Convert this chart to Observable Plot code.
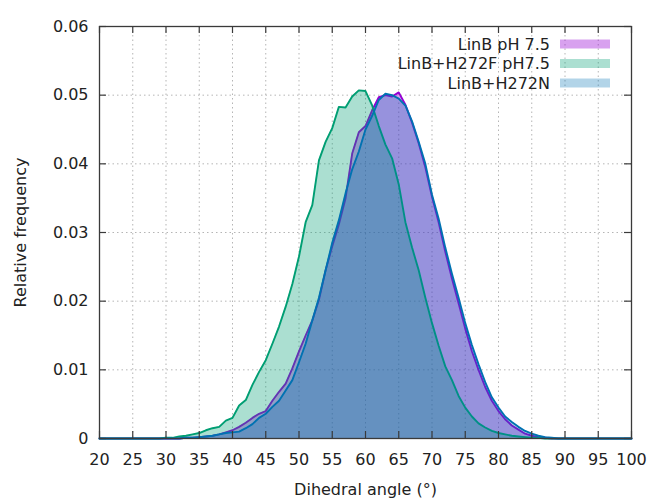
<!DOCTYPE html>
<html>
<head>
<meta charset="utf-8">
<script src="https://cdn.jsdelivr.net/npm/d3@7"></script>
<script src="https://cdn.jsdelivr.net/npm/@observablehq/plot@0.6"></script>
<style>
  body { margin: 0; background: #fff; }
  #chart { width: 652px; height: 499px; }
</style>
</head>
<body>
<div id="chart"></div>
<script>
// Dihedral angle bins (degrees)
const angles = [
  20,21,22,23,24,25,26,27,28,29,30,31,32,33,34,35,36,37,38,39,
  40,41,42,43,44,45,46,47,48,49,50,51,52,53,54,55,56,57,58,59,
  60,61,62,63,64,65,66,67,68,69,70,71,72,73,74,75,76,77,78,79,
  80,81,82,83,84,85,86,87,88,89,90,91,92,93,94,95,96,97,98,99,100
];

const seriesNames = ["LinB pH 7.5", "LinB+H272F pH7.5", "LinB+H272N"];
const seriesColors = ["#9400d3", "#009e73", "#0072b2"];
const seriesFillOpacity = [0.37, 0.33, 0.3];

// Relative frequency per bin
const freqWT = [
  0,0,0,0,0,0,0,0,0,0,0,0,0,0.0001,0.0001,0.0002,0.0003,0.0004,0.0006,0.0009,
  0.0012,0.0017,0.0023,0.0030,0.0036,0.0040,0.0055,0.0068,0.0080,0.0102,
  0.0127,0.0150,0.0172,0.0202,0.0245,0.0280,0.0312,0.0350,0.0415,0.0446,
  0.0455,0.0478,0.0497,0.0500,0.0498,0.0504,0.0486,0.0460,0.0430,0.0395,
  0.0352,0.0315,0.0272,0.0233,0.0197,0.0160,0.0127,0.0100,0.0075,0.0055,
  0.0040,0.0028,0.0019,0.0013,0.0007,0.0004,0.0002,0.0001,0,0,
  0,0,0,0,0,0,0,0,0,0,0
];
const freqH272F = [
  0,0,0,0,0,0,0,0,0,0,0.0001,0.0001,0.0003,0.0004,0.0006,0.0008,0.0012,0.0015,0.0017,0.0026,
  0.0030,0.0048,0.0056,0.0078,0.0097,0.0114,0.0138,0.0163,0.0192,0.0225,
  0.0265,0.0315,0.0340,0.0405,0.0432,0.0452,0.0483,0.0482,0.0498,0.0507,
  0.0506,0.0485,0.0455,0.0428,0.0408,0.0370,0.0315,0.0278,0.0245,0.0205,
  0.0168,0.0135,0.0105,0.0085,0.0062,0.0045,0.0032,0.0022,0.0016,0.0011,
  0.0008,0.0006,0.0004,0.0003,0.0002,0.0001,0.0001,0,0,0,
  0,0,0,0,0,0,0,0,0,0,0
];
const freqH272N = [
  0,0,0,0,0,0,0,0,0,0,0,0,0,0.0001,0.0001,0.0002,0.0003,0.0004,0.0006,0.0008,
  0.0009,0.0010,0.0015,0.0021,0.0030,0.0036,0.0046,0.0055,0.0070,0.0085,
  0.0111,0.0138,0.0172,0.0205,0.0245,0.0285,0.0318,0.0357,0.0392,0.0418,
  0.0450,0.0470,0.0493,0.0502,0.0500,0.0495,0.0485,0.0462,0.0432,0.0400,
  0.0355,0.0320,0.0278,0.0240,0.0205,0.0168,0.0136,0.0108,0.0082,0.0060,
  0.0045,0.0032,0.0024,0.0017,0.0011,0.0007,0.0004,0.0002,0.0001,0,
  0,0,0,0,0,0,0,0,0,0,0
];

const xTicks = [20,25,30,35,40,45,50,55,60,65,70,75,80,85,90,95,100];
const yTicks = [0,0.01,0.02,0.03,0.04,0.05,0.06];
const yTickLabels = ["0","0.01","0.02","0.03","0.04","0.05","0.06"];

const allSeries = [freqWT, freqH272F, freqH272N].map((vals, i) =>
  angles.map((a, j) => ({angle: a, freq: vals[j], series: seriesNames[i]}))
);

const W = 652, H = 499;
const mL = 99, mR = 21, mT = 26, mB = 61;
const innerW = W - mL - mR, innerH = H - mT - mB;
const tickLen = 7;
const axisColor = "#3a3a3a";
const font = "DejaVu Sans";

const marks = [
  Plot.gridX(xTicks, {stroke: "#b5b5b5", strokeOpacity: 1, strokeDasharray: "1.5,3"}),
  Plot.gridY(yTicks, {stroke: "#b5b5b5", strokeOpacity: 1, strokeDasharray: "1.5,3"})
];
allSeries.forEach((rows, i) => {
  marks.push(Plot.areaY(rows, {x: "angle", y: "freq", fill: seriesColors[i], fillOpacity: seriesFillOpacity[i]}));
  marks.push(Plot.lineY(rows, {x: "angle", y: "freq", stroke: seriesColors[i], strokeWidth: 1.9}));
});
marks.push(
  // inward ticks on all four sides
  Plot.tickX(xTicks, {x: d => d, insetTop: innerH - tickLen, stroke: axisColor, strokeWidth: 1.2}),
  Plot.tickX(xTicks, {x: d => d, insetBottom: innerH - tickLen, stroke: axisColor, strokeWidth: 1.2}),
  Plot.tickY(yTicks, {y: d => d, insetRight: innerW - tickLen, stroke: axisColor, strokeWidth: 1.2}),
  Plot.tickY(yTicks, {y: d => d, insetLeft: innerW - tickLen, stroke: axisColor, strokeWidth: 1.2}),
  Plot.frame({stroke: axisColor, strokeWidth: 1.3}),
  Plot.axisX({
    ticks: xTicks, tickSize: 0, tickPadding: 15, fontSize: 16, fill: "#222",
    label: "Dihedral angle (°)", labelAnchor: "center", labelArrow: "none", labelOffset: 56
  }),
  Plot.axisY({
    ticks: yTicks, tickSize: 0, tickPadding: 11, fontSize: 16, fill: "#222",
    tickFormat: d => yTickLabels[yTicks.indexOf(d)],
    label: "Relative frequency", labelAnchor: "center", labelArrow: "none", labelOffset: 85
  })
);

const chart = Plot.plot({
  width: W, height: H,
  marginLeft: mL, marginRight: mR, marginTop: mT, marginBottom: mB,
  style: {fontFamily: font, fontSize: "16px", color: "#222", background: "#fff"},
  x: {domain: [20, 100]},
  y: {domain: [0, 0.06]},
  marks
});

// Key in the top-right corner of the frame
const svg = d3.select(chart);
const key = svg.append("g").attr("font-family", font).attr("font-size", 16).attr("fill", "#222");
seriesNames.forEach((name, i) => {
  const cy = 44 + i * 19.5;
  key.append("text").attr("x", 550).attr("y", cy).attr("dy", "0.35em")
    .attr("text-anchor", "end").text(name);
  key.append("rect").attr("x", 560).attr("y", cy - 4.5).attr("width", 50).attr("height", 9)
    .attr("fill", seriesColors[i]).attr("fill-opacity", seriesFillOpacity[i]);
});

document.getElementById("chart").appendChild(chart);
</script>
</body>
</html>
